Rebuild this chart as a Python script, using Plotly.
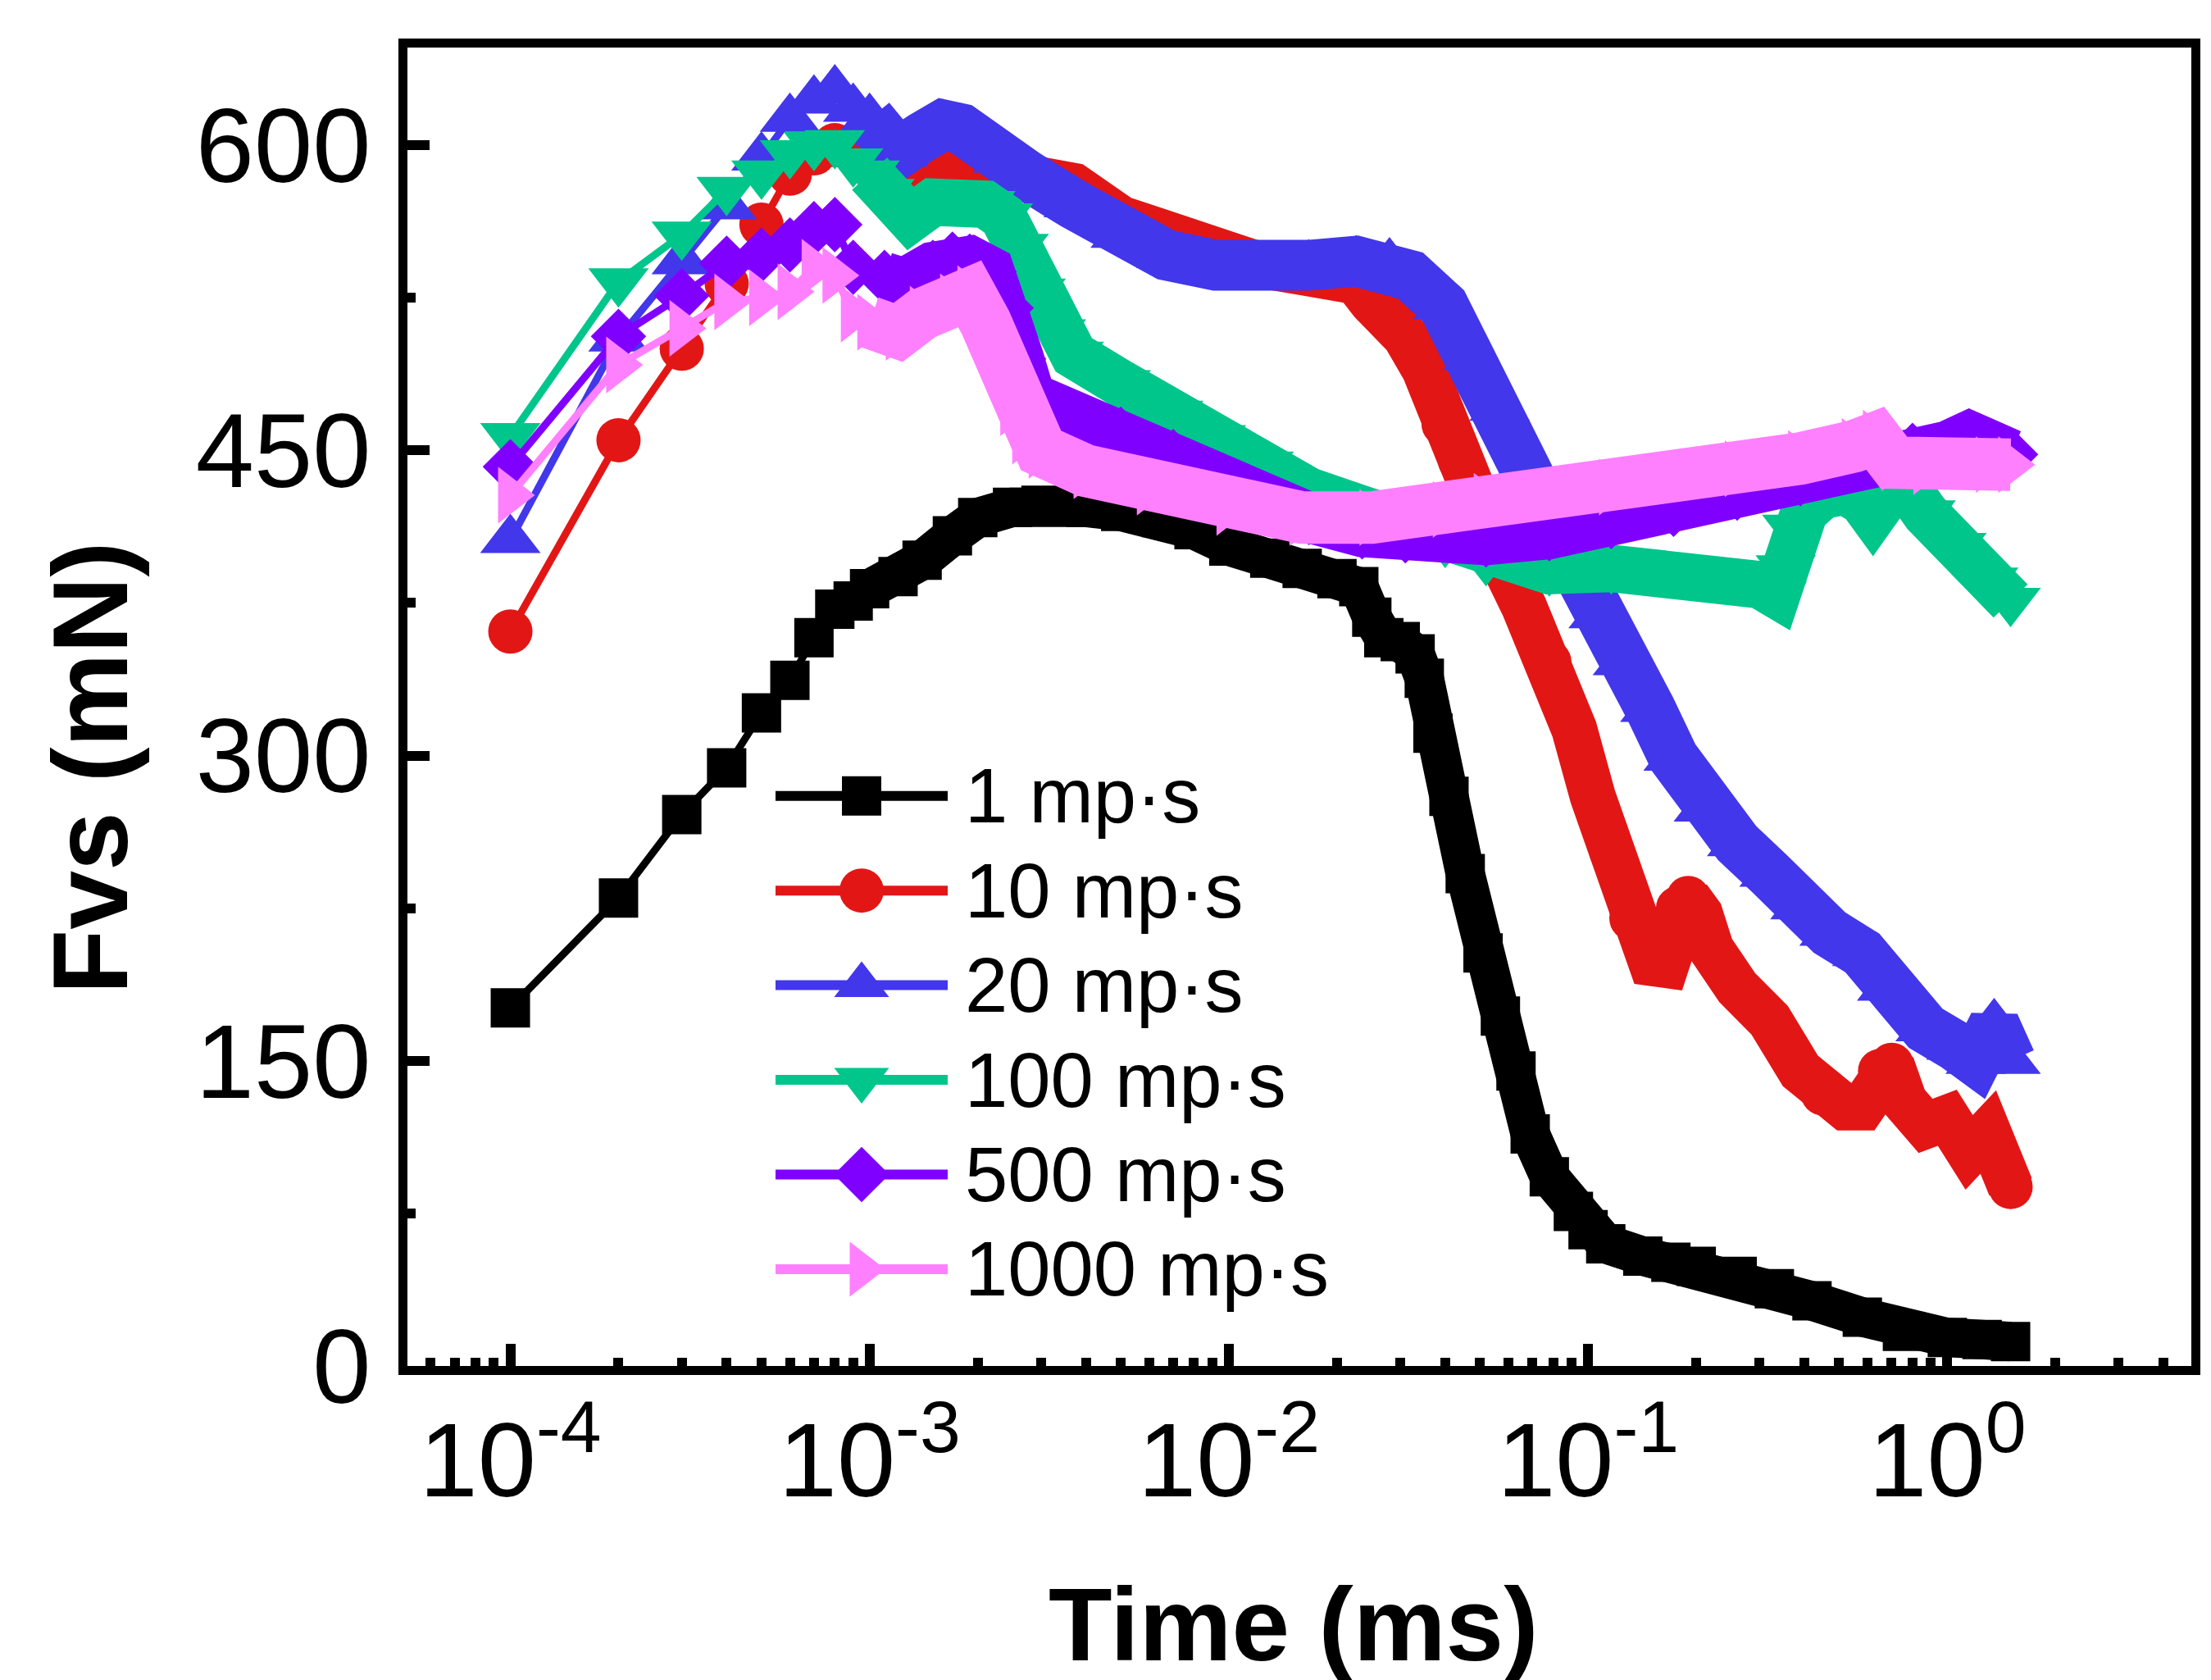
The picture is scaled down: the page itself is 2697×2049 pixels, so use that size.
import plotly.graph_objects as go

# ---------------- data ----------------
names = ["1 mp·s", "10 mp·s", "20 mp·s", "100 mp·s", "500 mp·s", "1000 mp·s"]
colors = ["#000000", "#E31616", "#4237EB", "#00C68C", "#8000FF", "#FF80FF"]
symbols = ["square", "circle", "triangle-up", "triangle-down", "diamond", "triangle-right"]

t_1 = [1e-4, 2e-4, 3e-4, 4e-4, 5e-4, 6e-4, 7e-4, 8e-4, 9e-4, 1e-3, 1.2e-3, 1.4e-3, 1.7e-3,
       2e-3, 2.5e-3, 3e-3, 4e-3, 5e-3, 6.5e-3, 8e-3, 0.01, 0.013, 0.016, 0.02, 0.023, 0.025,
       0.027, 0.03, 0.033, 0.035, 0.037, 0.041, 0.0455, 0.051, 0.057, 0.063, 0.069, 0.078,
       0.091, 0.1, 0.112, 0.142, 0.17, 0.2, 0.26, 0.33, 0.42, 0.58, 0.75, 1.0, 1.25, 1.5]
f_1 = [176, 230, 271, 294, 321, 337, 358, 372, 376, 382, 388, 396, 408,
       417, 422, 423, 422, 420, 417, 411, 403, 397, 392, 387, 383, 368,
       358, 356, 350, 338, 311, 280, 242, 203, 172, 145, 114, 93,
       76, 67, 60, 54, 51, 49, 44, 38, 32, 24, 17, 14, 13, 12]

t_10 = [1e-4, 2e-4, 3e-4, 4e-4, 5e-4, 6e-4, 7e-4, 8e-4, 9e-4, 1e-3, 1.3e-3, 1.7e-3, 2.4e-3,
        3.7e-3, 5e-3, 6.7e-3, 9.2e-3, 0.0123, 0.0167, 0.0226, 0.025, 0.028, 0.031, 0.035,
        0.0396, 0.044, 0.0481, 0.0567, 0.0664, 0.078, 0.0915, 0.103, 0.116, 0.132, 0.15,
        0.165, 0.178, 0.19, 0.205, 0.22, 0.26, 0.32, 0.39, 0.45, 0.52, 0.58, 0.65, 0.7,
        0.76, 0.87, 1.0, 1.15, 1.3, 1.4, 1.5]
f_10 = [361, 455, 500, 532, 561, 586, 596, 600, 598, 595, 590, 590, 586,
        580, 564, 556, 546, 541, 537, 533, 523, 515, 506, 490,
        463, 445, 431, 398, 373, 346, 313, 280, 253, 220, 198,
        197, 225, 230, 222, 205, 186, 170, 145, 134, 127, 127, 145, 148,
        130, 118, 122, 105, 115, 100, 88]

t_20 = [1e-4, 2e-4, 3e-4, 4e-4, 5e-4, 6e-4, 7e-4, 8e-4, 9e-4, 1e-3, 1.1e-3, 1.2e-3, 1.4e-3,
        1.6e-3, 1.8e-3, 2e-3, 2.35e-3, 2.7e-3, 3.7e-3, 5e-3, 6.7e-3, 9.2e-3, 0.0123, 0.0167,
        0.0226, 0.028, 0.032, 0.0396, 0.048, 0.0567, 0.0664, 0.078, 0.0915, 0.107, 0.125,
        0.149, 0.173, 0.21, 0.26, 0.32, 0.39, 0.47, 0.58, 0.68, 0.87, 1.06, 1.2, 1.35, 1.5]
f_20 = [406, 505, 543, 570, 594, 613, 622, 627, 618, 613, 606, 596, 604,
        610, 608, 604, 593, 586, 571, 556, 546, 541, 538, 541,
        543, 542, 536, 521, 496, 471, 442, 417, 396, 369, 346,
        323, 299, 274, 257, 242, 226, 213, 203, 186, 166, 157, 150, 168, 150]

t_100 = [1e-4, 2e-4, 3e-4, 4e-4, 5e-4, 6e-4, 7e-4, 8e-4, 9e-4, 1e-3, 1.1e-3, 1.3e-3, 1.5e-3,
         1.8e-3, 2.1e-3, 2.35e-3, 2.6e-3, 2.9e-3, 3.3e-3, 3.7e-3, 5e-3, 7e-3, 9.2e-3, 0.0125,
         0.0167, 0.0235, 0.031, 0.04, 0.052, 0.078, 0.116, 0.173, 0.26, 0.3, 0.335, 0.355,
         0.37, 0.4, 0.45, 0.52, 0.58, 0.62, 0.68, 0.75, 0.87, 1.06, 1.3, 1.5]
f_100 = [457, 533, 556, 578, 586, 596, 600, 601, 592, 586, 577, 564, 572,
         573, 571, 565, 550, 528, 508, 497, 483, 468, 456, 443,
         430, 421, 414, 405, 396, 391, 392, 391, 388, 384, 379, 392,
         412, 420, 428, 430, 425, 418, 428, 435, 419, 403, 386, 376]

t_500 = [1e-4, 2e-4, 3e-4, 4e-4, 5e-4, 6e-4, 7e-4, 8e-4, 9e-4, 1.1e-3, 1.25e-3, 1.5e-3, 1.7e-3,
         1.9e-3, 2.15e-3, 2.4e-3, 2.6e-3, 2.8e-3, 3.3e-3, 3.7e-3, 5e-3, 7e-3, 0.01, 0.0167,
         0.0235, 0.031, 0.052, 0.078, 0.116, 0.173, 0.26, 0.39, 0.58, 0.8, 1.0, 1.15, 1.3, 1.5]
f_500 = [442, 506, 526, 542, 546, 551, 559, 561, 540, 535, 532, 540, 544,
         543, 538, 520, 495, 476, 470, 466, 458, 447, 432, 417,
         410, 408, 406, 409, 415, 421, 429, 436, 444, 450, 452, 457, 450, 448]

t_1000 = [1e-4, 2e-4, 3e-4, 4e-4, 5e-4, 6e-4, 7e-4, 8e-4, 9e-4, 1e-3, 1.2e-3, 1.4e-3, 1.7e-3,
          1.9e-3, 2.1e-3, 2.3e-3, 2.5e-3, 2.7e-3, 3e-3, 4e-3, 6e-3, 0.01, 0.016, 0.025, 0.04,
          0.052, 0.116, 0.26, 0.39, 0.55, 0.63, 0.71, 0.87, 1.3, 1.5]
f_1000 = [428, 492, 510, 523, 525, 528, 540, 536, 517, 513, 508, 517, 523,
          527, 513, 494, 471, 457, 450, 440, 432, 422, 417, 417, 421,
          425, 432, 441, 446, 452, 456, 444, 442, 443, 443]

series_t = [t_1, t_10, t_20, t_100, t_500, t_1000]
series_f = [f_1, f_10, f_20, f_100, f_500, f_1000]

x_tickvals = [1e-4, 1e-3, 1e-2, 1e-1, 1]
x_ticktext = ["10<sup>-4</sup>", "10<sup>-3</sup>", "10<sup>-2</sup>", "10<sup>-1</sup>", "10<sup>0</sup>"]
y_tickvals = [0, 150, 300, 450, 600]

# ---------------- styling ----------------
FONT = "Liberation Sans, Arial, sans-serif"
marker_sizes = [48, 54, 64, 64, 52, 60]
band_widths = [48, 56, 62, 58, 62, 64]
legend_marker_sizes = [48, 54, 58, 58, 52, 58]
BAND_START = 1e-3

fig = go.Figure()

for t, f, c, s, ms, bw in zip(series_t, series_f, colors, symbols, marker_sizes, band_widths):
    # dense part of the record: overlapping markers form a thick band
    tb = [ti for ti in t if ti >= BAND_START]
    fb = [fi for ti, fi in zip(t, f) if ti >= BAND_START]
    fig.add_trace(go.Scatter(x=tb, y=fb, mode="lines",
                             line=dict(color=c, width=bw),
                             showlegend=False, hoverinfo="skip"))
    fig.add_trace(go.Scatter(x=t, y=f, mode="lines+markers",
                             line=dict(color=c, width=9),
                             marker=dict(symbol=s, size=ms, color=c, opacity=1,
                                         line=dict(width=0)),
                             showlegend=False))

# ---------------- custom legend (own small axes) ----------------
for i, (n, c, s, ms) in enumerate(zip(names, colors, symbols, legend_marker_sizes)):
    fig.add_trace(go.Scatter(x=[0, 0.5, 1], y=[i, i, i], xaxis="x2", yaxis="y2",
                             mode="lines+markers",
                             line=dict(color=c, width=12),
                             marker=dict(symbol=s, size=[0, ms, 0], color=c, opacity=1,
                                         line=dict(width=0)),
                             showlegend=False, hoverinfo="skip"))
    fig.add_annotation(text=n, xref="paper", yref="y2", x=0.3116, y=i,
                       xanchor="left", yanchor="middle", showarrow=False,
                       font=dict(family=FONT, size=94, color="black"))

axis_common = dict(showline=True, linecolor="black", linewidth=11, mirror=True,
                   ticks="inside", tickcolor="black", tickwidth=12, ticklen=27,
                   showgrid=False, zeroline=False,
                   tickfont=dict(family=FONT, size=128, color="black"))

minor_x = [k * 10.0 ** e for e in range(-5, 1) for k in range(2, 10)]

fig.update_layout(
    width=2697, height=2049,
    paper_bgcolor="white", plot_bgcolor="white",
    margin=dict(l=489, r=32, t=50, b=391),
    xaxis=dict(type="log", range=[-4.2865, 0.6792],
               tickvals=x_tickvals, ticktext=x_ticktext, ticklabelstandoff=-6,
               minor=dict(tickvals=minor_x, ticks="inside", ticklen=10, tickwidth=12,
                          tickcolor="black", showgrid=False),
               **axis_common),
    yaxis=dict(range=[0, 648], tickvals=y_tickvals, ticklabelstandoff=8,
               minor=dict(dtick=75, ticks="inside", ticklen=10, tickwidth=12,
                          tickcolor="black", showgrid=False),
               **axis_common),
    xaxis2=dict(domain=[0.2063, 0.3029], range=[0, 1], anchor="y2", visible=False,
                fixedrange=True),
    yaxis2=dict(domain=[0.0375, 0.4683], range=[5.5, -0.5], anchor="x2", visible=False,
                fixedrange=True),
    showlegend=False,
)

fig.add_annotation(text="<b>Time (ms)</b>", xref="paper", yref="paper",
                   x=0.497, y=-0.196, xanchor="center", yanchor="middle", showarrow=False,
                   font=dict(family=FONT, size=127, color="black"))
fig.add_annotation(text="<b>Fvs (mN)</b>", xref="paper", yref="paper",
                   x=-0.178, y=0.4535, xanchor="center", yanchor="middle", showarrow=False,
                   textangle=-90, font=dict(family=FONT, size=129, color="black"))

fig.write_html("out.html")
